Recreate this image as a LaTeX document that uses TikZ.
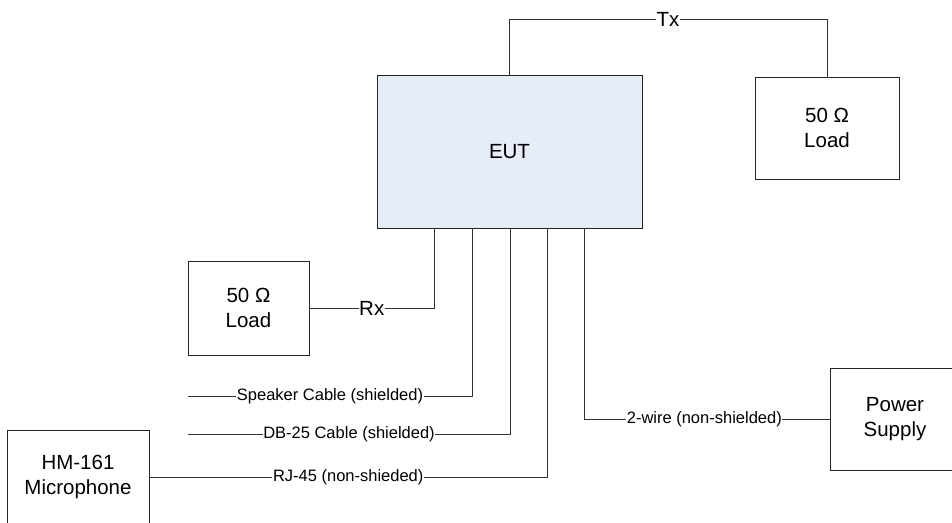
\documentclass[tikz,border=0pt]{standalone}
\usepackage{fontspec}
\setmainfont{Liberation Sans}
\begin{document}
\begin{tikzpicture}[x=1pt,y=-1pt,
  box/.style={draw=black!85,line width=0.9pt,minimum width=#1,align=center,font=\fontsize{20.5}{25}\selectfont,inner sep=0pt},
  wire/.style={draw=black!80,line width=0.9pt},
  lab/.style={fill=white,inner xsep=0.6pt,inner ysep=1pt,font=\fontsize{16.5}{19}\selectfont},
  biglab/.style={fill=white,inner xsep=0.6pt,inner ysep=1pt,font=\fontsize{20.5}{24}\selectfont}]
\useasboundingbox (0,0) rectangle (952,522);
\clip (0,0) rectangle (952,522);
\node[box=265pt,minimum height=153pt,fill={rgb,255:red,230;green,237;blue,247}] (eut) at (509.5,151.5) {EUT};
\node[box=144pt,minimum height=102pt] (rload) at (827,128) {50 Ω\\Load};
\node[box=121pt,minimum height=94pt] (lload) at (248.5,308) {50 Ω\\Load};
\node[box=130pt,minimum height=102pt] (psu) at (895,419) {Power\\Supply};
\node[box=142pt,minimum height=94pt] (mic) at (78,477) {HM-161\\Microphone};
\coordinate (spkend) at (188,396);
\coordinate (dbend) at (188,434);
% Tx
\draw[wire] (eut.north -| 509,0) |- node[pos=0.75,biglab]{Tx} (rload.north |- 0,19) -- (rload.north);
% Rx
\draw[wire] (lload.east) -- node[biglab]{Rx} (lload.east -| 434,0) -- (eut.south -| 434,0);
% cables
\draw[wire] (eut.south -| 472,0) |- node[pos=0.75,lab]{Speaker Cable (shielded)} (spkend);
\draw[wire] (eut.south -| 510,0) |- node[pos=0.75,lab]{DB-25 Cable (shielded)} (dbend);
\draw[wire] (eut.south -| 547,0) |- node[pos=0.75,lab]{RJ-45 (non-shieded)} (mic.east);
\draw[wire] (eut.south -| 584,0) |- node[pos=0.745,lab]{2-wire (non-shielded)} (psu.west);
\end{tikzpicture}
\end{document}
